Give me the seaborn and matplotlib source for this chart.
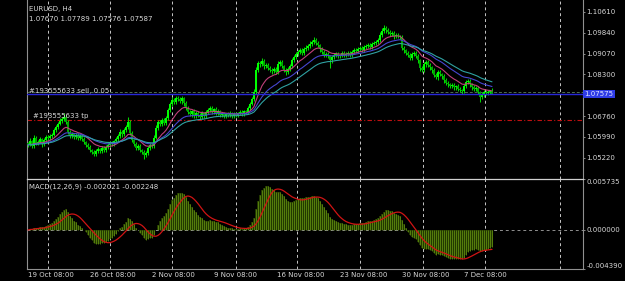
import numpy as np
import pandas as pd
import matplotlib
matplotlib.use("Agg")
import matplotlib.pyplot as plt
import matplotlib.transforms as mtrans
import seaborn as sns

# ---------------- data ----------------
symbol_title = "EURUSD, H4"
ohlc_text = "1.07670 1.07789 1.07576 1.07587"
first_open = 1.0575
closes = [
    1.0569, 1.0584, 1.0565, 1.0595, 1.0576, 1.0580, 1.0591, 1.0572, 1.0587, 1.0598,
    1.0595, 1.0602, 1.0606, 1.0624, 1.0635, 1.0646, 1.0657, 1.0665, 1.0672, 1.0654,
    1.0617, 1.0602, 1.0609, 1.0598, 1.0606, 1.0595, 1.0602, 1.0591, 1.0580, 1.0569,
    1.0561, 1.0550, 1.0543, 1.0535, 1.0546, 1.0554, 1.0546, 1.0558, 1.0550, 1.0561,
    1.0569, 1.0576, 1.0572, 1.0584, 1.0591, 1.0602, 1.0617, 1.0609, 1.0624, 1.0635,
    1.0654, 1.0613, 1.0587, 1.0572, 1.0558, 1.0565, 1.0550, 1.0543, 1.0532, 1.0539,
    1.0558, 1.0569, 1.0565, 1.0595, 1.0632, 1.0654, 1.0646, 1.0661, 1.0650, 1.0669,
    1.0698, 1.0720, 1.0735, 1.0728, 1.0743, 1.0739, 1.0731, 1.0743, 1.0724, 1.0706,
    1.0691, 1.0683, 1.0694, 1.0676, 1.0687, 1.0680, 1.0672, 1.0687, 1.0676, 1.0691,
    1.0698, 1.0706, 1.0691, 1.0702, 1.0687, 1.0694, 1.0680, 1.0683, 1.0676, 1.0683,
    1.0680, 1.0687, 1.0676, 1.0683, 1.0680, 1.0687, 1.0691, 1.0683, 1.0694, 1.0691,
    1.0706, 1.0720, 1.0739, 1.0765, 1.0846, 1.0872, 1.0868, 1.0880, 1.0861, 1.0865,
    1.0854, 1.0846, 1.0843, 1.0850, 1.0839, 1.0868, 1.0876, 1.0861, 1.0846, 1.0839,
    1.0850, 1.0861, 1.0883, 1.0894, 1.0906, 1.0913, 1.0920, 1.0909, 1.0924, 1.0928,
    1.0935, 1.0943, 1.0950, 1.0957, 1.0946, 1.0939, 1.0924, 1.0913, 1.0902, 1.0906,
    1.0898, 1.0883, 1.0894, 1.0902, 1.0906, 1.0898, 1.0902, 1.0909, 1.0902, 1.0906,
    1.0909, 1.0902, 1.0913, 1.0920, 1.0917, 1.0924, 1.0928, 1.0920, 1.0931, 1.0935,
    1.0939, 1.0931, 1.0943, 1.0946, 1.0950, 1.0957, 1.0976, 1.0991, 1.1002, 1.0994,
    1.0987, 1.0980, 1.0983, 1.0972, 1.0976, 1.0972, 1.0969, 1.0928, 1.0920, 1.0909,
    1.0902, 1.0891, 1.0906, 1.0909, 1.0898, 1.0883, 1.0854, 1.0846, 1.0868, 1.0876,
    1.0865, 1.0857, 1.0846, 1.0828, 1.0820, 1.0839, 1.0831, 1.0824, 1.0809, 1.0798,
    1.0794, 1.0787, 1.0791, 1.0783, 1.0787, 1.0776, 1.0772, 1.0768, 1.0787, 1.0802,
    1.0806, 1.0794, 1.0783, 1.0776, 1.0780, 1.0765, 1.0746, 1.0757, 1.0765, 1.0761,
    1.0765, 1.0767, 1.07587,
]
wick_up_pips = [
    6, 9, 5, 12, 7, 6, 8, 5, 9, 7,  6, 8, 7, 9, 6, 8, 10, 7, 15, 9,
    8, 6, 9, 5, 7, 6, 8, 6, 7, 5,  6, 7, 5, 8, 6, 9, 5, 7, 6, 8,
    7, 6, 8, 5, 9, 7, 10, 6, 8, 7,  18, 7, 6, 5, 8, 6, 7, 5, 6, 7,
    6, 8, 7, 9, 10, 8, 6, 9, 7, 8,  9, 7, 10, 6, 8, 7, 9, 6, 5, 7,
    6, 8, 5, 7, 9, 6, 7, 8, 5, 6,  8, 6, 7, 5, 6, 8, 5, 7, 6, 5,
    6, 7, 5, 6, 7, 5, 6, 8, 5, 6,  7, 8, 9, 10, 12, 9, 8, 11, 6, 7,
    6, 8, 7, 9, 6, 12, 9, 6, 5, 7,  6, 8, 9, 7, 8, 6, 9, 7, 8, 9,
    8, 9, 7, 10, 6, 7, 5, 6, 7, 6,  7, 5, 8, 6, 7, 6, 5, 8, 6, 7,
    6, 7, 8, 6, 7, 8, 6, 7, 8, 7,  7, 6, 8, 7, 9, 8, 10, 9, 11, 8,
    7, 6, 8, 6, 7, 6, 5, 7, 6, 5,  6, 7, 8, 6, 7, 6, 5, 7, 8, 6,
    7, 6, 5, 6, 7, 8, 6, 5, 6, 7,  6, 5, 7, 6, 5, 6, 7, 5, 9, 8,
    7, 6, 5, 6, 7, 6, 5, 8, 6, 7,  6, 7, 12,
]
wick_dn_pips = [
    7, 5, 9, 6, 8, 7, 5, 9, 6, 7,  8, 6, 7, 5, 7, 6, 5, 7, 6, 8,
    9, 7, 6, 8, 7, 9, 6, 7, 8, 7,  8, 6, 9, 7, 8, 6, 8, 7, 9, 6,
    7, 8, 6, 7, 5, 6, 7, 9, 6, 8,  7, 9, 8, 7, 8, 9, 7, 8, 15, 8,
    9, 7, 8, 6, 5, 7, 8, 6, 9, 7,  6, 8, 7, 9, 6, 8, 7, 9, 10, 8,
    9, 7, 10, 8, 6, 9, 7, 8, 6, 7,  7, 8, 6, 9, 7, 6, 8, 7, 6, 8,
    7, 6, 8, 7, 6, 8, 7, 6, 8, 7,  6, 7, 5, 6, 8, 7, 9, 8, 10, 7,
    9, 8, 10, 7, 8, 7, 6, 9, 8, 10,  8, 7, 6, 8, 7, 9, 6, 8, 7, 6,
    7, 6, 8, 7, 9, 8, 10, 7, 9, 8,  8, 29, 9, 8, 7, 9, 8, 6, 9, 7,
    7, 8, 6, 7, 8, 6, 7, 8, 6, 7,  6, 8, 7, 6, 7, 6, 8, 7, 6, 9,
    8, 9, 7, 10, 8, 9, 8, 7, 9, 8,  9, 8, 7, 9, 8, 10, 12, 8, 7, 9,
    8, 9, 10, 8, 7, 9, 8, 10, 9, 8,  9, 8, 7, 10, 9, 8, 7, 9, 8, 7,
    8, 9, 10, 8, 9, 9, 18, 8, 9, 8,  7, 9, 1,
]
ma_periods = [12, 24, 36]
macd_fast, macd_slow, macd_signal = 12, 26, 9
macd_text = "MACD(12,26,9) -0.002021 -0.002248"
order_price = 1.07575
order_text = "#193555633 sell, 0.05"
ask_price = 1.0763
tp_price = 1.0661
tp_text = "#193555633 tp"
price_ticks = [1.10610, 1.09840, 1.09070, 1.08300, 1.06760, 1.05990, 1.05220]
macd_ticks = [0.005735, 0.0, -0.004390]
macd_tick_labels = ["0.005735", "0.000000", "-0.004390"]
time_labels = ["19 Oct 08:00", "26 Oct 08:00", "2 Nov 08:00", "9 Nov 08:00",
               "16 Nov 08:00", "23 Nov 08:00", "30 Nov 08:00", "7 Dec 08:00"]
time_label_idx = [0, 31, 62, 93, 124.5, 156, 187, 218]
grid_idx = [10, 41, 72, 104, 134.5, 166, 197.5, 228.5, 266]

# ---------------- derived ----------------
close = np.array(closes)
n = len(close)
idx = np.arange(n)
opn = np.concatenate([[first_open], close[:-1]])
high = np.maximum(opn, close) + np.array(wick_up_pips) * 1e-4
low = np.minimum(opn, close) - np.array(wick_dn_pips) * 1e-4
df = pd.DataFrame({"i": idx, "open": opn, "high": high, "low": low, "close": close})
cs = df["close"]
for p in ma_periods:
    df[f"ma{p}"] = cs.ewm(span=p, adjust=False).mean()
df["macd"] = cs.ewm(span=macd_fast, adjust=False).mean() - cs.ewm(span=macd_slow, adjust=False).mean()
df["signal"] = df["macd"].rolling(macd_signal, min_periods=1).mean()

# ---------------- styling ----------------
sns.set_theme(style="dark", rc={
    "axes.facecolor": "black", "figure.facecolor": "black",
    "axes.edgecolor": "#808080", "grid.color": "#000000",
})
plt.rcParams["font.family"] = ["DejaVu Sans"]
txt_col = "#d8d8d8"
W, H = 625, 281

fig = plt.figure(figsize=(W / 100, H / 100), dpi=100)
ax = fig.add_axes([27 / W, 1 - 179 / H, 556 / W, 179 / H])
ax2 = fig.add_axes([27 / W, 1 - 269 / H, 556 / W, 90 / H])
for a in (ax, ax2):
    a.set_facecolor("black")
    a.set_xlim(-0.5, 277.5)
    a.grid(False)
    for g in grid_idx:
        a.axvline(g, color="#c8c8c8", lw=0.7, ls=(0, (3, 3)), zorder=1)

ax.set_ylim(1.04428, 1.11054)

# candles
up = df["close"] >= df["open"]
ax.vlines(df["i"], df["low"], df["high"], color="#00d800", lw=0.75, zorder=3)
ax.bar(df["i"], (df["close"] - df["open"]).abs().clip(lower=0.00015),
       bottom=np.minimum(df["open"], df["close"]), width=0.95,
       color=np.where(up, "#00ff00", "#00a800"), linewidth=0, zorder=3)

ma_colors = ["#c0407a", "#4646d0", "#2fa2a2"]
for p, c in zip(ma_periods, ma_colors):
    sns.lineplot(data=df, x="i", y=f"ma{p}", ax=ax, color=c, linewidth=0.8, zorder=4, legend=False)

# trade lines
ax.axhline(ask_price, color="#4f6f4f", lw=0.7, ls=(0, (3, 2)), zorder=2)
ax.axhline(order_price, color="#2828d8", lw=1.0, zorder=5)
ax.axhline(tp_price, color="#c01010", lw=0.8, ls=(0, (4, 2, 1, 2)), zorder=2)
ax.text(0.5, order_price, order_text, color=txt_col, fontsize=5, ha="left", va="bottom")
ax.text(2.5, tp_price + 0.0005, tp_text, color=txt_col, fontsize=5, ha="left", va="bottom")
bt = mtrans.blended_transform_factory(ax.transAxes, ax.transData)
ax.text(1.003, order_price, f"{order_price:.5f}", transform=bt, color="#dfe4ff", fontsize=5,
        ha="left", va="center", bbox=dict(facecolor="#2f3ce6", edgecolor="none", pad=1.0), zorder=6)

ax.yaxis.tick_right()
ax.set_yticks(price_ticks)
ax.set_yticklabels([f"{v:.5f}" for v in price_ticks])
ax.tick_params(axis="y", colors="#a0a0a0", labelcolor=txt_col, labelsize=5, length=1.5, pad=0.8, width=0.6)
ax.set_xticks([])
ax.set_xlabel("")
ax.set_ylabel("")
for s in ("top", "bottom"):
    ax.spines[s].set_visible(False)
for s in ("left", "right"):
    ax.spines[s].set_color("#909090")
    ax.spines[s].set_linewidth(0.8)

fig.text(29 / W, 1 - 9 / H, symbol_title, color=txt_col, fontsize=5, ha="left", va="center")
fig.text(29 / W, 1 - 19 / H, ohlc_text, color=txt_col, fontsize=5, ha="left", va="center")

# MACD pane
ax2.set_ylim(macd_ticks[2], macd_ticks[0])
ax2.bar(df["i"], df["macd"], width=1.0, color="#223800", linewidth=0, zorder=2)
ax2.vlines(df["i"], 0, df["macd"], color="#6a9a12", lw=0.5, zorder=3)
sns.lineplot(data=df, x="i", y="signal", ax=ax2, color="#d01414", linewidth=0.9, zorder=4, legend=False)
ax2.axhline(0, color="#909090", lw=0.7, ls=(0, (3, 3)), zorder=1)
ax2.text(2 / 556, 0.91, macd_text, transform=ax2.transAxes, color=txt_col, fontsize=5,
         ha="left", va="center")
ax2.yaxis.tick_right()
ax2.set_yticks(macd_ticks)
ax2.set_yticklabels(macd_tick_labels)
for lbl, va in zip(ax2.get_yticklabels(), ["top", "center", "bottom"]):
    lbl.set_va(va)
ax2.tick_params(axis="y", colors="#a0a0a0", labelcolor=txt_col, labelsize=5, length=1.5, pad=0.8, width=0.6)
ax2.set_xticks(time_label_idx)
ax2.set_xticklabels(time_labels, ha="left")
ax2.tick_params(axis="x", colors="#a0a0a0", labelcolor=txt_col, labelsize=5, length=0, pad=2)
ax2.set_xlabel("")
ax2.set_ylabel("")
ax2.spines["top"].set_color("#d0d0d0")
ax2.spines["top"].set_linewidth(0.9)
for s in ("left", "right", "bottom"):
    ax2.spines[s].set_color("#909090")
    ax2.spines[s].set_linewidth(0.8)

fig.savefig("out.png", dpi=100, facecolor="black")
